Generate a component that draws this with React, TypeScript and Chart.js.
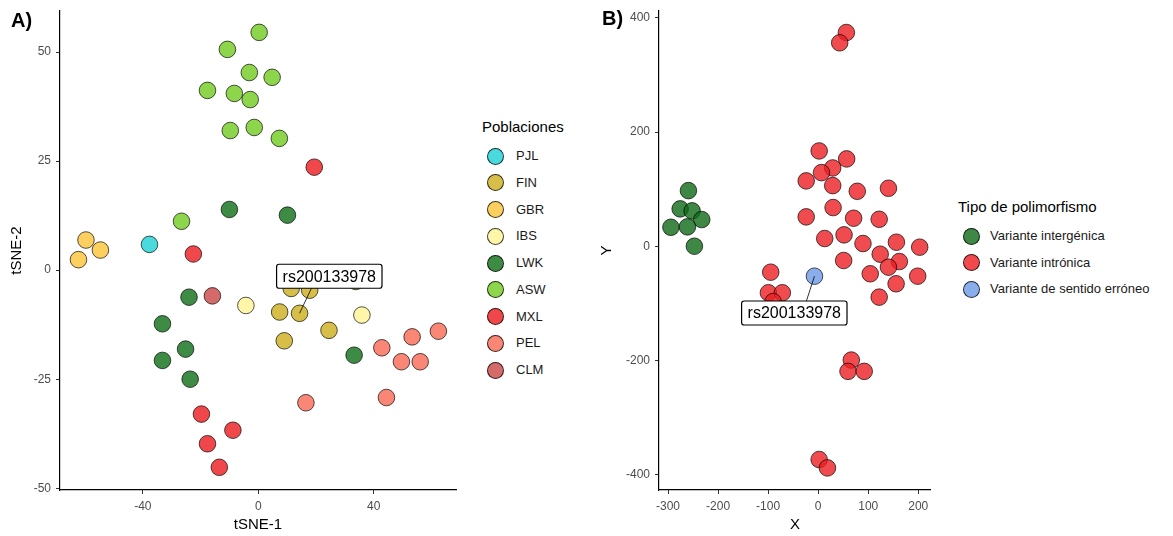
import React, { useEffect, useRef } from "react";
import { Chart, registerables } from "chart.js";

Chart.register(...registerables);

const FONT = "'Liberation Sans', Arial, sans-serif";

// ---------- Panel A data (tSNE) ----------
const popNames = ["PJL", "FIN", "GBR", "IBS", "LWK", "ASW", "MXL", "PEL", "CLM"];
const popColors = ["#4AD9DC", "#D6BE48", "#FCCF5E", "#FFF6AA", "#3D8B45", "#8DD64B", "#F0484A", "#FA8675", "#D46A6A"];

const pjlX = [-37.7];
const pjlY = [5.9];
const finX = [7.4, 14.3, 24.5, 9.0, 11.4, 17.8, 33.8];
const finY = [-9.6, -9.9, -13.8, -16.2, -4.2, -4.6, -2.6];
const gbrX = [-59.7, -54.7, -62.3];
const gbrY = [6.9, 4.6, 2.4];
const ibsX = [-4.3, 35.9];
const ibsY = [-8.1, -10.3];
const lwkX = [-10.0, 10.1, -24.0, -33.2, -25.2, -33.2, -23.6, 33.2];
const lwkY = [13.9, 12.6, -6.2, -12.3, -18.1, -20.7, -25.0, -19.5];
const aswX = [0.3, -10.7, -3.1, 4.8, -17.6, -8.3, -2.8, -9.7, -1.4, 7.3, -26.6];
const aswY = [54.5, 50.6, 45.3, 44.2, 41.2, 40.5, 39.1, 32.0, 32.7, 30.2, 11.2];
const mxlX = [19.4, -22.5, -19.7, -17.6, -8.8, -13.5];
const mxlY = [23.6, 3.7, -33.0, -39.8, -36.7, -45.2];
const pelX = [62.4, 53.3, 42.8, 49.6, 56.1, 44.4, 16.5];
const pelY = [-14.0, -15.3, -17.8, -21.0, -21.0, -29.2, -30.4];
const clmX = [-15.9];
const clmY = [-5.9];

const popXs = [pjlX, finX, gbrX, ibsX, lwkX, aswX, mxlX, pelX, clmX];
const popYs = [pjlY, finY, gbrY, ibsY, lwkY, aswY, mxlY, pelY, clmY];

const aXTicks = [-40, 0, 40];
const aYTicks = [-50, -25, 0, 25, 50];

// ---------- Panel B data ----------
const typeNames = ["Variante intergénica", "Variante intrónica", "Variante de sentido erróneo"];
const typeColors = ["rgba(14,105,22,0.8)", "rgba(236,30,34,0.8)", "rgba(109,153,230,0.8)"];
const typeLegendColors = ["#3E8745", "#F04A4E", "#8AADEB"];

const interX = [-259.2, -275.7, -251.9, -232.6, -294.2, -261.2, -247.3];
const interY = [97.4, 65.4, 61.9, 46.7, 33.2, 33.9, 0];
const intronX = [
  56.3, 43.0, 2.0, 56.9, 29.0, 6.6, -23.9, 29.0, 78.1, 140.4, 29.8, -23.9, 70.8, 121.9,
  13.1, 51.7, 89.5, 156.3, 202.8, 50.9, 123.9, 162.2, 140.4, 104.0, 198.8, 155.7, 121.9,
  -94.8, -99.4, -71.6, -90.0, 66.2, 59.6, 92.0, 2.0, 18.5,
];
const intronY = [
  374.3, 356.3, 166.9, 152.9, 137.1, 128.9, 114.4, 106.2, 96.2, 101.5, 67.7, 51.4, 49.0, 47.2,
  13.5, 19.9, 4.7, 7.0, -1.7, -25.0, -14.0, -26.8, -36.7, -48.3, -52.5, -65.8, -89.2,
  -45.5, -81.5, -81.5, -97.0, -199.4, -219.2, -219.2, -373.6, -388.3,
];
const missenseX = [-7.4];
const missenseY = [-52.5];

const typeXs = [interX, intronX, missenseX];
const typeYs = [interY, intronY, missenseY];

const bXTicks = [-300, -200, -100, 0, 100, 200];
const bYTicks = [-400, -200, 0, 200, 400];

const snpLabel = "rs200133978";
// label anchor: target point and label box centre in data units
const aLabel = { px: 14.3, py: -9.9, lx: 24.6, ly: -1.4 };
const bLabel = { px: -7.4, py: -52.5, lx: -47.7, ly: -117 };

function labelPlugin(lab: { px: number; py: number; lx: number; ly: number }) {
  return {
    id: "snpLabel",
    afterDatasetsDraw(chart: any) {
      const ctx = chart.ctx;
      const xs = chart.scales.x;
      const ys = chart.scales.y;
      const px = xs.getPixelForValue(lab.px);
      const py = ys.getPixelForValue(lab.py);
      const cx = xs.getPixelForValue(lab.lx);
      const cy = ys.getPixelForValue(lab.ly);
      ctx.save();
      ctx.font = `16px ${FONT}`;
      const tw = ctx.measureText(snpLabel).width;
      const w = tw + 12;
      const h = 24;
      const bx = cx - w / 2;
      const by = cy - h / 2;
      let ex = Math.max(bx, Math.min(bx + w, px));
      const ey = py > cy ? by + h : by;
      if (px > bx && px < bx + w) ex = cx + (px - cx) * 0.6;
      ctx.strokeStyle = "#000";
      ctx.lineWidth = 0.8;
      ctx.beginPath();
      ctx.moveTo(ex, ey);
      ctx.lineTo(px, py);
      ctx.stroke();
      ctx.fillStyle = "#fff";
      ctx.strokeStyle = "#000";
      ctx.lineWidth = 1.2;
      ctx.beginPath();
      ctx.roundRect(bx, by, w, h, 2.5);
      ctx.fill();
      ctx.stroke();
      ctx.fillStyle = "#000";
      ctx.textAlign = "center";
      ctx.textBaseline = "middle";
      ctx.fillText(snpLabel, cx, cy + 1);
      ctx.restore();
    },
  };
}

function axisOpts(
  min: number,
  max: number,
  ticks: number[],
  title: string,
  isX: boolean,
  fixedSize: number,
  titlePad: number
) {
  return {
    type: "linear",
    min,
    max,
    afterBuildTicks: (s: any) => {
      s.ticks = ticks.map((v) => ({ value: v }));
    },
    afterFit: (s: any) => {
      if (isX) s.height = fixedSize;
      else s.width = fixedSize;
      s.paddingLeft = 0;
      s.paddingRight = 0;
      s.paddingTop = 0;
      s.paddingBottom = 0;
    },
    ticks: {
      font: { family: FONT, size: 12 },
      color: "#4D4D4D",
      padding: 5,
      maxRotation: 0,
      callback: (v: number) => String(v),
    },
    grid: {
      display: true,
      drawOnChartArea: false,
      drawTicks: true,
      tickLength: 4,
      color: "#333333",
      lineWidth: 1,
    },
    border: { display: true, color: "#000", width: 1.2 },
    title: {
      display: true,
      text: title,
      color: "#000",
      font: { family: FONT, size: 15 },
      padding: isX ? { top: 0, bottom: titlePad } : { top: titlePad, bottom: 0 },
    },
  };
}

function makeDatasets(xs: number[][], ys: number[][], colors: string[], names: string[]) {
  return xs.map((arr, k) => ({
    label: names[k],
    data: arr.map((x, i) => ({ x, y: ys[k][i] })),
    backgroundColor: colors[k],
    borderColor: "rgba(0,0,0,0.75)",
    borderWidth: 0.9,
    pointRadius: 8.3,
    pointHoverRadius: 8.3,
  }));
}

function ScatterCanvas(props: { config: any; width: number; height: number; left: number; top: number }) {
  const ref = useRef<HTMLCanvasElement | null>(null);
  useEffect(() => {
    if (!ref.current) return;
    const chart = new Chart(ref.current, props.config);
    return () => chart.destroy();
  }, []);
  return (
    <canvas
      ref={ref}
      width={props.width}
      height={props.height}
      style={{ position: "absolute", left: props.left, top: props.top, width: props.width, height: props.height }}
    />
  );
}

const baseOptions = (padRight: number) => ({
  responsive: false,
  animation: false,
  devicePixelRatio: 1,
  layout: { padding: { top: 11, right: padRight, left: 0, bottom: 0 } },
  plugins: { legend: { display: false }, tooltip: { enabled: false } },
  events: [],
});

const configA = {
  type: "scatter",
  data: { datasets: makeDatasets(popXs, popYs, popColors, popNames) },
  options: {
    ...baseOptions(14),
    scales: {
      x: axisOpts(-68.7, 68.5, aXTicks, "tSNE-1", true, 46, 2),
      y: axisOpts(-50.4, 59.4, aYTicks, "tSNE-2", false, 60, 8),
    },
  },
  plugins: [labelPlugin(aLabel)],
};

const configB = {
  type: "scatter",
  data: { datasets: makeDatasets(typeXs, typeYs, typeColors, typeNames) },
  options: {
    ...baseOptions(4),
    scales: {
      x: axisOpts(-318, 225, bXTicks, "X", true, 46, 2),
      y: axisOpts(-427, 412, bYTicks, "Y", false, 69, 8),
    },
  },
  plugins: [labelPlugin(bLabel)],
};

function Legend(props: {
  title: string;
  names: string[];
  colors: string[];
  left: number;
  titleTop: number;
  firstY: number;
  step: number;
  textLeft: number;
  circleX: number;
}) {
  return (
    <div style={{ position: "absolute", left: 0, top: 0 }}>
      <div
        style={{
          position: "absolute",
          left: props.left,
          top: props.titleTop,
          font: `15px ${FONT}`,
          color: "#000",
          whiteSpace: "nowrap",
          lineHeight: "18px",
        }}
      >
        {props.title}
      </div>
      {props.names.map((n, i) => (
        <div key={n}>
          <div
            style={{
              position: "absolute",
              left: props.circleX - 8.5,
              top: props.firstY + i * props.step - 8.5,
              width: 17,
              height: 17,
              borderRadius: "50%",
              background: props.colors[i],
              border: "1px solid rgba(0,0,0,0.75)",
              boxSizing: "border-box",
            }}
          />
          <div
            style={{
              position: "absolute",
              left: props.textLeft,
              top: props.firstY + i * props.step - 8,
              font: `13px ${FONT}`,
              color: "#1A1A1A",
              whiteSpace: "nowrap",
              lineHeight: "16px",
            }}
          >
            {n}
          </div>
        </div>
      ))}
    </div>
  );
}

export default function App() {
  return (
    <div style={{ position: "absolute", left: 0, top: 0, width: 1173, height: 536, background: "#fff", overflow: "hidden" }}>
      <ScatterCanvas config={configA} width={470} height={536} left={0} top={0} />
      <ScatterCanvas config={configB} width={350} height={536} left={590} top={0} />
      <div style={{ position: "absolute", left: 11, top: 10, font: `bold 20px ${FONT}`, lineHeight: "20px", color: "#000" }}>A)</div>
      <div style={{ position: "absolute", left: 602, top: 8, font: `bold 20px ${FONT}`, lineHeight: "20px", color: "#000" }}>B)</div>
      <Legend
        title="Poblaciones"
        names={popNames}
        colors={popColors}
        left={482}
        titleTop={118}
        firstY={156}
        step={26.75}
        textLeft={516}
        circleX={495.5}
      />
      <Legend
        title="Tipo de polimorfismo"
        names={typeNames}
        colors={typeLegendColors}
        left={958}
        titleTop={198}
        firstY={236}
        step={26.6}
        textLeft={990}
        circleX={971.5}
      />
    </div>
  );
}
